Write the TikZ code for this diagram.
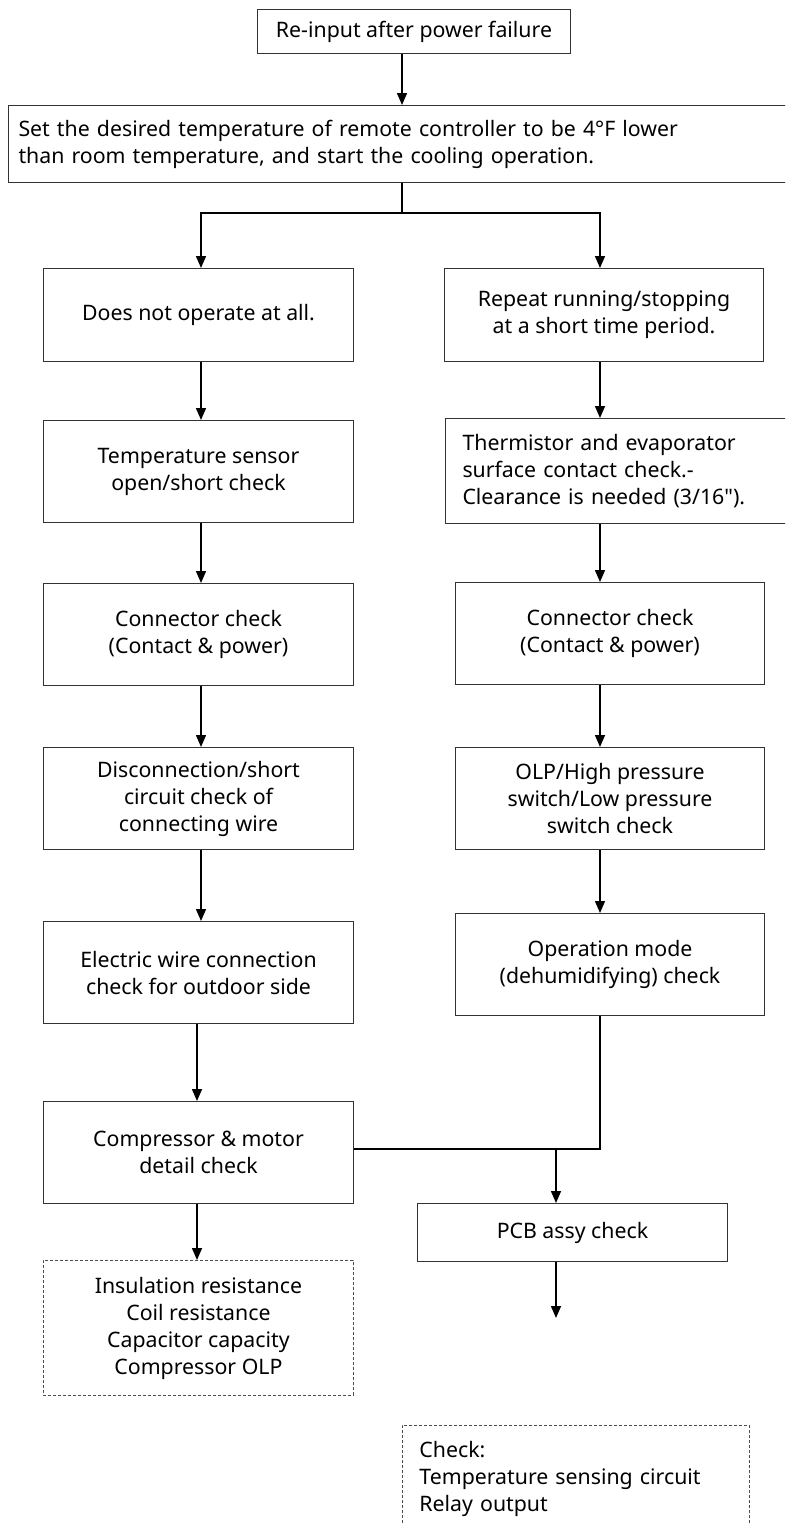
\documentclass[tikz,border=0pt]{standalone}
\usepackage{fontspec}
\setmainfont{Noto Sans}[Ligatures=TeXOff]
\usetikzlibrary{arrows.meta}

\begin{document}
\begin{tikzpicture}[x=1pt,y=-1pt,
  box/.style={draw=kLine,line width=1pt,inner sep=0pt,align=center,anchor=north west,
    font=\fontsize{21.3}{27}\selectfont},
  note/.style={box,draw=kDash,line width=0.9pt,dash pattern=on 3pt off 2pt},
  link/.style={draw=black,line width=1.5pt},
  flow/.style={link,-{Triangle[length=12pt,width=10pt]}}]
  \definecolor{kLine}{rgb}{0.2,0.2,0.2}
  \definecolor{kDash}{rgb}{0.3,0.3,0.3}

  \path[use as bounding box] (0,0) rectangle (785,1524);
  \clip (0,0) rectangle (785,1524);

  \node[box,minimum width=313pt,minimum height=44pt] (start) at (257,9) {Re-input after power failure};
  \node[box,minimum height=77pt,text width=780pt,inner xsep=10pt,align=left] (set) at (8,105)
    {Set the desired temperature of remote controller to be 4°F lower\\than room temperature, and start the cooling operation.};

  \node[box,minimum width=310pt,minimum height=93pt]  (l1) at (43,268)  {Does not operate at all.};
  \node[box,minimum width=310pt,minimum height=102pt] (l2) at (43,420)  {Temperature sensor\\open/short check};
  \node[box,minimum width=310pt,minimum height=102pt] (l3) at (43,583)  {Connector check\\(Contact \& power)};
  \node[box,minimum width=310pt,minimum height=102pt] (l4) at (43,747)  {Disconnection/short\\circuit check of\\connecting wire};
  \node[box,minimum width=310pt,minimum height=102pt] (l5) at (43,921)  {Electric wire connection\\check for outdoor side};
  \node[box,minimum width=310pt,minimum height=102pt] (l6) at (43,1101) {Compressor \& motor\\detail check};
  \node[note,minimum width=310pt,minimum height=135pt] (l7) at (43,1260)
    {Insulation resistance\\Coil resistance\\Capacitor capacity\\Compressor OLP};

  \node[box,minimum width=319pt,minimum height=93pt]  (r1) at (444,268) {Repeat running/stopping\\at a short time period.};
  \node[box,minimum height=105pt,text width=380pt,inner xsep=17pt,align=left] (r2) at (445,418)
    {Thermistor and evaporator\\surface contact check.-\\Clearance is needed (3/16").};
  \node[box,minimum width=309pt,minimum height=102pt] (r3) at (455,582) {Connector check\\(Contact \& power)};
  \node[box,minimum width=309pt,minimum height=102pt] (r4) at (455,747) {OLP/High pressure\\switch/Low pressure\\switch check};
  \node[box,minimum width=309pt,minimum height=102pt] (r5) at (455,913) {Operation mode\\(dehumidifying) check};
  \node[box,minimum width=310pt,minimum height=58pt]  (pcb) at (417,1203) {PCB assy check};
  \node[note,minimum height=106pt,text width=313pt,inner xsep=17pt,align=left] (check) at (402,1425)
    {Check:\\Temperature sensing circuit\\Relay output};

  \coordinate (split) at (402,213);
  \coordinate (lx) at (201,0);
  \coordinate (lx2) at (197,0);
  \coordinate (rx) at (600,0);
  \coordinate (merge) at (600,1149);
  \coordinate (drop) at (556,1149);
  \coordinate (exit) at (556,1318);

  \draw[flow] (start.south -| split) -- (set.north -| split);
  \draw[link] (set.south -| split) -- (split);
  \draw[flow] (split) -| (l1.north -| lx);
  \draw[flow] (split) -| (r1.north -| rx);
  \foreach \a/\b in {l1/l2,l2/l3,l3/l4,l4/l5}
    \draw[flow] (\a.south -| lx) -- (\b.north -| lx);
  \foreach \a/\b in {l5/l6,l6/l7}
    \draw[flow] (\a.south -| lx2) -- (\b.north -| lx2);
  \foreach \a/\b in {r1/r2,r2/r3,r3/r4,r4/r5}
    \draw[flow] (\a.south -| rx) -- (\b.north -| rx);
  \draw[link] (r5.south -| rx) -- (merge) -- (l6.east |- merge);
  \draw[flow] (drop) -- (pcb.north -| drop);
  \draw[flow] (pcb.south -| exit) -- (exit);
\end{tikzpicture}
\end{document}
